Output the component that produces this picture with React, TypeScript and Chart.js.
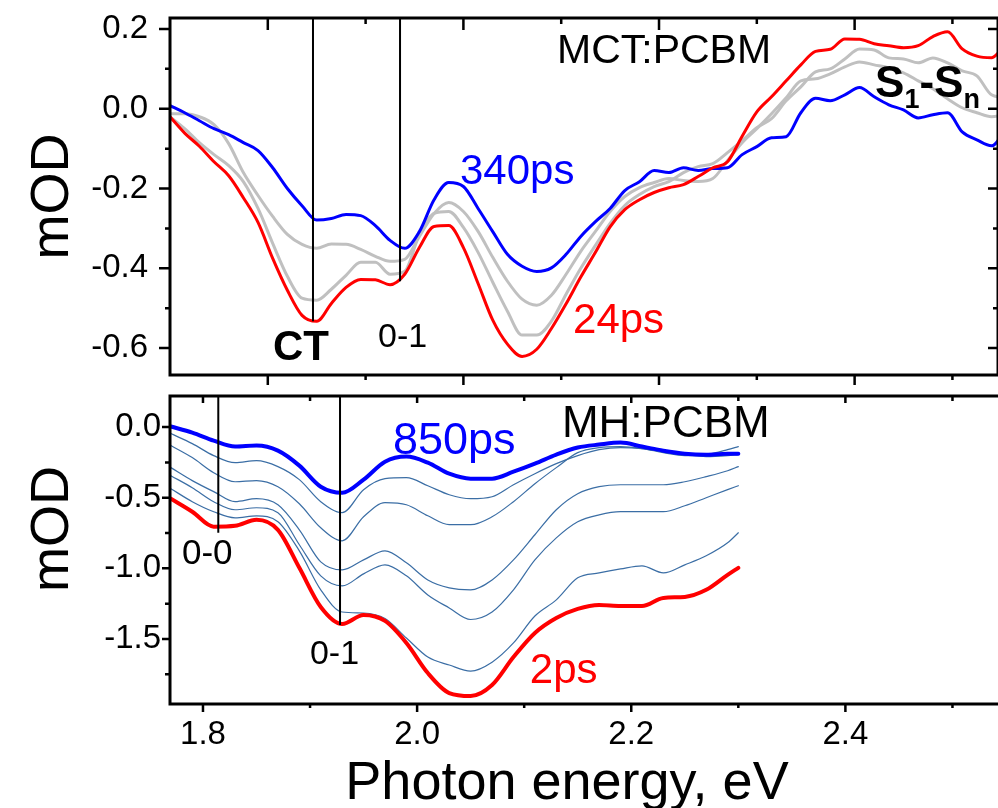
import React, { useEffect, useRef } from "react";
import { Chart, registerables } from "chart.js";

Chart.register(...registerables);

const FONT = "'Liberation Sans', Arial, Helvetica, sans-serif";

// ---------------- TOP PANEL (MCT:PCBM) ----------------
const topEnergy: number[] = [
  1.700, 1.715, 1.730, 1.745, 1.760, 1.775, 1.790, 1.805, 1.820, 1.835,
  1.850, 1.865, 1.880, 1.895, 1.910, 1.925, 1.940, 1.955, 1.970, 1.985,
  2.000, 2.015, 2.030, 2.045, 2.060, 2.075, 2.090, 2.105, 2.120, 2.135,
  2.150, 2.165, 2.180, 2.195, 2.210, 2.225, 2.240, 2.255, 2.270, 2.285,
  2.300, 2.315, 2.330, 2.345, 2.360, 2.375, 2.390, 2.405, 2.420, 2.435,
  2.450, 2.465, 2.480, 2.495, 2.510, 2.525, 2.540, 2.555,
];
const top24ps: number[] = [
  -0.02, -0.061, -0.094, -0.133, -0.168, -0.223, -0.285, -0.375, -0.455, -0.518,
  -0.533, -0.488, -0.448, -0.428, -0.429, -0.441, -0.415, -0.348, -0.295, -0.293,
  -0.348, -0.438, -0.53, -0.59, -0.621, -0.603, -0.551, -0.489, -0.422, -0.36,
  -0.296, -0.253, -0.228, -0.21, -0.198, -0.19, -0.17, -0.148, -0.133, -0.069,
  -0.008, 0.03, 0.07, 0.11, 0.144, 0.149, 0.175, 0.174, 0.163, 0.158,
  0.153, 0.158, 0.181, 0.193, 0.15, 0.132, 0.128, 0.165,
];
const topGrayEarly: number[] = [
  -0.02, -0.05, -0.085, -0.115, -0.1425, -0.1825, -0.25, -0.3375, -0.42, -0.475,
  -0.48, -0.4525, -0.4175, -0.385, -0.385, -0.415, -0.4075, -0.315, -0.2625, -0.2575,
  -0.2975, -0.36, -0.435, -0.5075, -0.5675, -0.5675, -0.5325, -0.465, -0.4, -0.3425,
  -0.2875, -0.2425, -0.215, -0.195, -0.1825, -0.16, -0.145, -0.1375, -0.11, -0.08,
  -0.0475, -0.025, 0.02, 0.055, 0.0925, 0.1, 0.125, 0.15, 0.1475, 0.1275,
  0.125, 0.115, 0.1275, 0.115, 0.095, 0.0825, 0.035, 0.0275,
];
const topGrayLate: number[] = [
  -0.0125, -0.0125, -0.02, -0.04, -0.0875, -0.16, -0.2175, -0.27, -0.315, -0.34,
  -0.35, -0.339, -0.34, -0.3525, -0.37, -0.3825, -0.3775, -0.32, -0.2625, -0.235,
  -0.2575, -0.3075, -0.3725, -0.4325, -0.4775, -0.4925, -0.4675, -0.415, -0.3575, -0.3075,
  -0.2575, -0.22, -0.1975, -0.185, -0.175, -0.18, -0.1825, -0.175, -0.13, -0.085,
  -0.05, -0.0125, 0.0275, 0.07, 0.075, 0.0875, 0.105, 0.1175, 0.11, 0.1025,
  0.09, 0.07, 0.05, 0.025, 0.0025, -0.01, -0.02, -0.015,
];
const top340ps: number[] = [
  0.008, -0.01, -0.03, -0.05, -0.065, -0.085, -0.105, -0.148, -0.2, -0.243,
  -0.279, -0.275, -0.265, -0.268, -0.293, -0.33, -0.35, -0.308, -0.228, -0.185,
  -0.195, -0.25, -0.308, -0.365, -0.395, -0.408, -0.399, -0.365, -0.32, -0.283,
  -0.25, -0.205, -0.183, -0.155, -0.16, -0.148, -0.155, -0.15, -0.148, -0.115,
  -0.095, -0.073, -0.07, -0.01, 0.026, 0.02, 0.035, 0.053, 0.03, 0.01,
  -0.003, -0.023, -0.015, -0.01, -0.058, -0.078, -0.093, -0.05,
];
const topXTicks: number[] = [1.8, 1.9, 2.0, 2.1, 2.2, 2.3, 2.4, 2.5];
const topMarkerEnergy: number[] = [1.8462, 1.9352]; // CT, 0-1
const topMarkerDepth: number[] = [-0.533, -0.4325];
const TOP_X_MIN = 1.7, TOP_X_MAX = 2.5466, TOP_Y_MIN = -0.6675, TOP_Y_MAX = 0.2275;

// ---------------- BOTTOM PANEL (MH:PCBM) ----------------
const botEnergy: number[] = [
  1.77, 1.79, 1.81, 1.83, 1.85, 1.87, 1.89, 1.91, 1.93, 1.95,
  1.97, 1.99, 2.01, 2.03, 2.05, 2.07, 2.09, 2.11, 2.13, 2.15,
  2.17, 2.19, 2.21, 2.23, 2.25, 2.27, 2.29, 2.30,
];
const bot2ps: number[] = [
  -0.507, -0.599, -0.705, -0.699, -0.656, -0.727, -0.996, -1.273, -1.394, -1.33,
  -1.372, -1.528, -1.741, -1.883, -1.904, -1.826, -1.628, -1.457, -1.351, -1.287,
  -1.259, -1.266, -1.266, -1.209, -1.202, -1.152, -1.046, -0.996,
];
const botT5: number[] = [
  -0.436, -0.528, -0.599, -0.642, -0.628, -0.67, -0.876, -1.152, -1.309, -1.316,
  -1.355, -1.493, -1.628, -1.684, -1.727, -1.664, -1.528, -1.337, -1.223, -1.067,
  -1.032, -1.004, -0.982, -1.032, -0.975, -0.911, -0.819, -0.748,
];
const botT4: number[] = [
  -0.344, -0.429, -0.528, -0.585, -0.571, -0.606, -0.833, -1.053, -1.124, -1.039,
  -0.975, -1.053, -1.188, -1.28, -1.362, -1.309, -1.152, -0.94, -0.784, -0.67,
  -0.621, -0.599, -0.599, -0.599, -0.557, -0.5, -0.443, -0.415,
];
const botT3: number[] = [
  -0.287, -0.379, -0.457, -0.528, -0.507, -0.55, -0.727, -0.954, -1.011, -0.94,
  -0.876, -0.961, -1.082, -1.138, -1.152, -1.082, -0.94, -0.762, -0.585, -0.472,
  -0.422, -0.408, -0.408, -0.408, -0.387, -0.351, -0.309, -0.28,
];
const botT2: number[] = [
  -0.131, -0.216, -0.323, -0.387, -0.379, -0.422, -0.543, -0.713, -0.805, -0.635,
  -0.535, -0.55, -0.628, -0.691, -0.691, -0.635, -0.528, -0.401, -0.287, -0.181,
  -0.145, -0.138, -0.152, -0.181, -0.202, -0.195, -0.16, -0.138,
];
const botT1: number[] = [
  -0.046, -0.117, -0.202, -0.252, -0.238, -0.28, -0.372, -0.528, -0.606, -0.443,
  -0.365, -0.358, -0.415, -0.479, -0.507, -0.493, -0.408, -0.33, -0.259, -0.202,
  -0.16, -0.145, -0.152, -0.174, -0.195, -0.209, -0.202, -0.195,
];
const bot850ps: number[] = [
  0.004, -0.039, -0.096, -0.138, -0.131, -0.167, -0.273, -0.422, -0.465, -0.372,
  -0.245, -0.209, -0.252, -0.33, -0.365, -0.365, -0.316, -0.259, -0.195, -0.145,
  -0.124, -0.11, -0.138, -0.167, -0.188, -0.195, -0.188, -0.188,
];
const botMarkerEnergy: number[] = [1.8143, 1.928]; // 0-0, 0-1
const botMarkerDepth: number[] = [-0.748, -1.4];
const BOT_X_MIN = 1.7692, BOT_X_MAX = 2.55, BOT_Y_MIN = -1.96, BOT_Y_MAX = 0.22;

// ---------------- helpers ----------------
const pts = (xs: number[], ys: number[]) => xs.map((x, i) => ({ x, y: ys[i] }));

const curve = (data: any, color: string, width: number) => ({
  data,
  borderColor: color,
  borderWidth: width,
  pointRadius: 0,
  fill: false,
  cubicInterpolationMode: "monotone" as const,
  borderJoinStyle: "round" as const,
  borderCapStyle: "round" as const,
});

const marker = (e: number, yTop: number, depth: number) => ({
  data: [{ x: e, y: yTop }, { x: e, y: depth }],
  borderColor: "#000",
  borderWidth: 2,
  pointRadius: 0,
  tension: 0,
  fill: false,
});

type Part = { text: string; sub?: boolean };
type Label = { parts: Part[]; x: number; y: number; color: string; size: number; bold?: boolean };
type Title = { text: string; x: number; y: number; size: number; rotate?: boolean };
type Decor = {
  yLeft: [number, number];
  yRight?: [number, number];
  xTop: [number, number];
  xBottom: [number, number];
  xTicks?: { value: number; major: boolean }[];
  labels: Label[];
  titles: Title[];
};

function decorPlugin(d: Decor) {
  return {
    id: "decor",
    afterDatasetsDraw(chart: any) {
      const { ctx, chartArea: a, scales } = chart;
      const xs = scales.x, ys = scales.y;
      ctx.save();
      ctx.strokeStyle = "#000";
      ctx.lineWidth = 3;
      ctx.strokeRect(a.left, a.top, a.right - a.left, a.bottom - a.top);
      ctx.lineWidth = 2.5;
      ctx.beginPath();
      ys.ticks.forEach((t: any) => {
        const p = ys.getPixelForValue(t.value);
        const major = t.label !== "";
        const lo = major ? d.yLeft[0] : d.yLeft[1];
        ctx.moveTo(a.left, p);
        ctx.lineTo(a.left - lo, p);
        if (d.yRight) {
          const li = major ? d.yRight[0] : d.yRight[1];
          ctx.moveTo(a.right, p);
          ctx.lineTo(a.right - li, p);
        }
      });
      const xt = d.xTicks ?? xs.ticks.map((t: any) => ({ value: t.value, major: t.label !== "" }));
      xt.forEach((t: any) => {
        const p = xs.getPixelForValue(t.value);
        const ti = t.major ? d.xTop[0] : d.xTop[1];
        const bo = t.major ? d.xBottom[0] : d.xBottom[1];
        ctx.moveTo(p, a.top);
        ctx.lineTo(p, a.top + ti);
        ctx.moveTo(p, a.bottom);
        ctx.lineTo(p, a.bottom + bo);
      });
      ctx.stroke();

      ctx.textAlign = "left";
      ctx.textBaseline = "alphabetic";
      d.labels.forEach((l) => {
        let px = xs.getPixelForValue(l.x);
        const py = ys.getPixelForValue(l.y);
        ctx.fillStyle = l.color;
        l.parts.forEach((p) => {
          const size = p.sub ? Math.round(l.size * 0.62) : l.size;
          ctx.font = `${l.bold ? "bold " : ""}${size}px ${FONT}`;
          ctx.fillText(p.text, px, py + (p.sub ? l.size * 0.25 : 0));
          px += ctx.measureText(p.text).width;
        });
      });

      d.titles.forEach((t) => {
        ctx.fillStyle = "#000";
        ctx.font = `${t.size}px ${FONT}`;
        ctx.save();
        ctx.translate(t.x, t.y);
        if (t.rotate) {
          ctx.rotate(-Math.PI / 2);
          ctx.textAlign = "center";
          ctx.textBaseline = "middle";
        } else {
          ctx.textAlign = "center";
          ctx.textBaseline = "alphabetic";
        }
        ctx.fillText(t.text, 0, 0);
        ctx.restore();
      });
      ctx.restore();
    },
  };
}

const fmtEvery = (v: any, mult: number) => {
  const n = Math.round(Number(v) * mult);
  return n % 2 === 0 ? (n / mult).toFixed(1) : "";
};

const fixYWidth = (s: any) => {
  s.width = 170;
  s.paddingTop = 0;
  s.paddingBottom = 0;
};

function topConfig(): any {
  const decor: Decor = {
    yLeft: [11, 5],
    yRight: [10, 5],
    xTop: [12, 6],
    xBottom: [10, 5],
    xTicks: topXTicks.map((v, i) => ({ value: v, major: i % 2 === 0 })),
    labels: [
      { parts: [{ text: "MCT:PCBM" }], x: 2.0957, y: 0.115, color: "#000", size: 41 },
      { parts: [{ text: "340ps" }], x: 1.9965, y: -0.1875, color: "#0000ff", size: 42 },
      { parts: [{ text: "24ps" }], x: 2.1121, y: -0.5625, color: "#ff0000", size: 42 },
      { parts: [{ text: "CT" }], x: 1.8053, y: -0.63, color: "#000", size: 42, bold: true },
      { parts: [{ text: "0-1" }], x: 1.9127, y: -0.5975, color: "#000", size: 34 },
      {
        parts: [{ text: "S" }, { text: "1", sub: true }, { text: "-" }, { text: "S" }, { text: "n", sub: true }],
        x: 2.4209, y: 0.03, color: "#000", size: 44, bold: true,
      },
    ],
    titles: [],
  };
  return {
    type: "line",
    data: {
      datasets: [
        ...topMarkerEnergy.map((e, i) => marker(e, TOP_Y_MAX, topMarkerDepth[i])),
        curve(pts(topEnergy, top24ps), "#ff0000", 3),
        curve(pts(topEnergy, top340ps), "#0000ff", 3),
        curve(pts(topEnergy, topGrayEarly), "#c0c0c0", 3),
        curve(pts(topEnergy, topGrayLate), "#c0c0c0", 3),
      ],
    },
    options: {
      animation: false,
      responsive: false,
      maintainAspectRatio: false,
      devicePixelRatio: 1,
      layout: { padding: { left: 0, right: 2, top: 18, bottom: 15 } },
      plugins: { legend: { display: false }, tooltip: { enabled: false } },
      scales: {
        x: { type: "linear", min: TOP_X_MIN, max: TOP_X_MAX, display: false },
        y: {
          type: "linear",
          min: TOP_Y_MIN,
          max: TOP_Y_MAX,
          afterFit: fixYWidth,
          grid: { display: false, drawTicks: false },
          border: { display: false },
          ticks: {
            stepSize: 0.1,
            includeBounds: false,
            autoSkip: false,
            padding: 22,
            color: "#000",
            font: { size: 33, family: FONT },
            callback: (v: any) => fmtEvery(v, 10),
          },
          title: {
            display: true,
            text: "mOD",
            color: "#000",
            font: { size: 54, family: FONT, lineHeight: 1 },
            padding: { top: 26, bottom: 0 },
          },
        },
      },
    },
    plugins: [decorPlugin(decor)],
  };
}

function botConfig(): any {
  const decor: Decor = {
    yLeft: [8, 5],
    xTop: [7, 5],
    xBottom: [8, 4],
    labels: [
      { parts: [{ text: "850ps" }], x: 1.9774, y: -0.19, color: "#0000ff", size: 45 },
      { parts: [{ text: "MH:PCBM" }], x: 2.1352, y: -0.07, color: "#000", size: 44 },
      { parts: [{ text: "2ps" }], x: 2.1053, y: -1.811, color: "#ff0000", size: 42 },
      { parts: [{ text: "0-0" }], x: 1.7804, y: -0.969, color: "#000", size: 35 },
      { parts: [{ text: "0-1" }], x: 1.8999, y: -1.676, color: "#000", size: 34 },
    ],
    titles: [
      { text: "mOD", x: 53, y: 139, size: 54, rotate: true },
      { text: "Photon energy, eV", x: 567, y: 409, size: 54 },
    ],
  };
  const thin = "#3b6ea5";
  return {
    type: "line",
    data: {
      datasets: [
        ...botMarkerEnergy.map((e, i) => marker(e, BOT_Y_MAX, botMarkerDepth[i])),
        curve(pts(botEnergy, bot2ps), "#ff0000", 4),
        curve(pts(botEnergy, bot850ps), "#0000ff", 4),
        curve(pts(botEnergy, botT1), thin, 1.2),
        curve(pts(botEnergy, botT2), thin, 1.2),
        curve(pts(botEnergy, botT3), thin, 1.2),
        curve(pts(botEnergy, botT4), thin, 1.2),
        curve(pts(botEnergy, botT5), thin, 1.2),
      ],
    },
    options: {
      animation: false,
      responsive: false,
      maintainAspectRatio: false,
      devicePixelRatio: 1,
      layout: { padding: { left: 0, right: 4, top: 6, bottom: 0 } },
      plugins: { legend: { display: false }, tooltip: { enabled: false } },
      scales: {
        x: {
          type: "linear",
          min: BOT_X_MIN,
          max: BOT_X_MAX,
          afterFit: (s: any) => {
            s.height = 104;
            s.paddingLeft = 0;
            s.paddingRight = 0;
          },
          grid: { display: false, drawTicks: false },
          border: { display: false },
          ticks: {
            stepSize: 0.1,
            includeBounds: false,
            autoSkip: false,
            maxRotation: 0,
            minRotation: 0,
            padding: 11,
            color: "#000",
            font: { size: 33, family: FONT },
            callback: (v: any) => fmtEvery(v, 10),
          },
        },
        y: {
          type: "linear",
          min: BOT_Y_MIN,
          max: BOT_Y_MAX,
          afterFit: fixYWidth,
          grid: { display: false, drawTicks: false },
          border: { display: false },
          ticks: {
            stepSize: 0.25,
            includeBounds: false,
            autoSkip: false,
            padding: 9,
            color: "#000",
            font: { size: 33, family: FONT },
            callback: (v: any) => fmtEvery(v, 4),
          },
        },
      },
    },
    plugins: [decorPlugin(decor)],
  };
}

export default function App() {
  const topRef = useRef<HTMLCanvasElement>(null);
  const botRef = useRef<HTMLCanvasElement>(null);
  useEffect(() => {
    Chart.defaults.font.family = FONT;
    const top = new Chart(topRef.current as HTMLCanvasElement, topConfig());
    const bot = new Chart(botRef.current as HTMLCanvasElement, botConfig());
    return () => {
      top.destroy();
      bot.destroy();
    };
  }, []);
  return (
    <div
      style={{
        position: "fixed",
        left: 0,
        top: 0,
        width: 998,
        height: 808,
        overflow: "hidden",
        background: "#ffffff",
      }}
    >
      <canvas
        ref={topRef}
        width={1000}
        height={390}
        style={{ position: "absolute", left: 0, top: 0, width: 1000, height: 390 }}
      />
      <canvas
        ref={botRef}
        width={1010}
        height={418}
        style={{ position: "absolute", left: 0, top: 390, width: 1010, height: 418 }}
      />
    </div>
  );
}
